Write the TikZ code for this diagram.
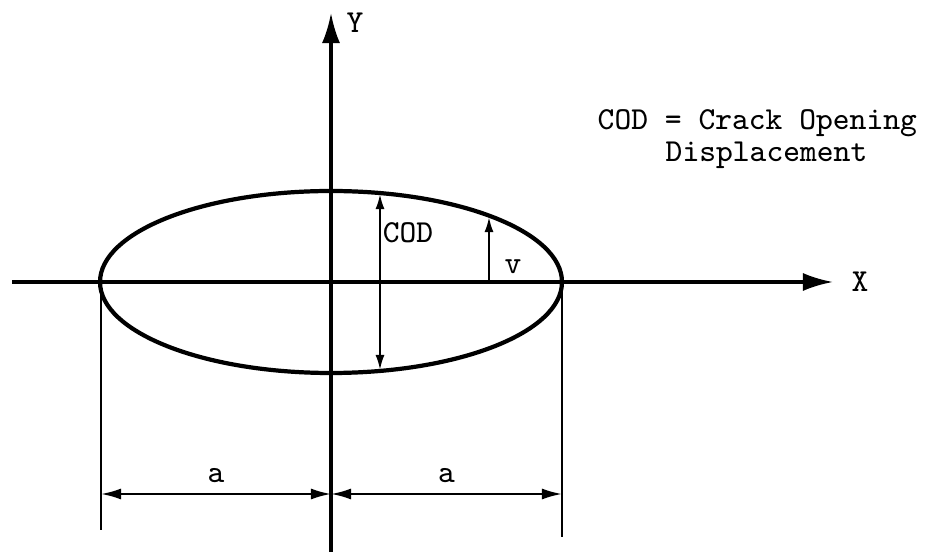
\documentclass[tikz,border=0pt]{standalone}
\usetikzlibrary{arrows.meta}

\begin{document}
\begin{tikzpicture}[
  x=0.01cm, y=-0.01cm,
  axisline/.style={line width=0.9pt,
    -{Latex[length=0.30cm, width=0.18cm]}},
  crackline/.style={line width=1.2pt},
  dimline/.style={line width=0.6pt},
  dimarr/.style={dimline,
    {Latex[length=0.20cm, width=0.11cm]}-{Latex[length=0.20cm, width=0.11cm]}},
  codarr/.style={dimline,
    {Latex[length=0.15cm, width=0.09cm]}-{Latex[length=0.15cm, width=0.09cm]}},
  varr/.style={dimline, -{Latex[length=0.15cm, width=0.09cm]}},
  lbl/.style={font=\ttfamily\fontsize{9.1}{11}\selectfont, inner sep=0pt},
]

% Frame
\useasboundingbox (0,0) rectangle (927,552);

% Centre and half axes of the crack
\def\cx{331}
\def\cy{282}
\def\ra{231}
\def\rb{91}

% Dimension line height
\def\dy{494}

% ---- Axes ----
\coordinate (xl) at (12,\cy);
\coordinate (xr) at (833,\cy);
\coordinate (yb) at (\cx,552);
\coordinate (yt) at (\cx,13);
\draw[axisline] (xl) -- (xr);
\draw[axisline] (yb) -- (yt);
\node[lbl] (xlbl) at (860,\cy) {X};
\node[lbl] (ylbl) at (355,23) {Y};

% ---- Crack (ellipse) ----
\draw[crackline] (\cx,\cy) ellipse [x radius=\ra, y radius=\rb];

% ---- COD and v ----
\coordinate (codt) at (380,194);
\coordinate (codb) at (380,370);
\draw[codarr] (codb) -- (codt);
\node[lbl] (codlbl) at (408,233) {COD};

\coordinate (vb) at (489,\cy);
\coordinate (vt) at (489,217);
\draw[varr] (vb) -- (vt);
\node[lbl] (vlbl) at (513,267) {v};

% ---- Dimensions ----
\coordinate (el1) at (101,288);
\coordinate (el2) at (101,530);
\coordinate (er1) at (562,288);
\coordinate (er2) at (562,537);
\draw[dimline] (el1) -- (el2);
\draw[dimline] (er1) -- (er2);

\coordinate (dl) at (101,\dy);
\coordinate (dm) at (\cx,\dy);
\coordinate (dr) at (562,\dy);
\draw[dimarr] (dl) -- node[lbl, above=3pt] (alft) {a} (dm);
\draw[dimarr] (dm) -- node[lbl, above=3pt] (argt) {a} (dr);

% ---- Note ----
\node[lbl, anchor=west] (note1) at (597,123) {COD = Crack Opening};
\node[lbl, anchor=west] (note2) at (665,155) {Displacement};

\end{tikzpicture}
\end{document}
